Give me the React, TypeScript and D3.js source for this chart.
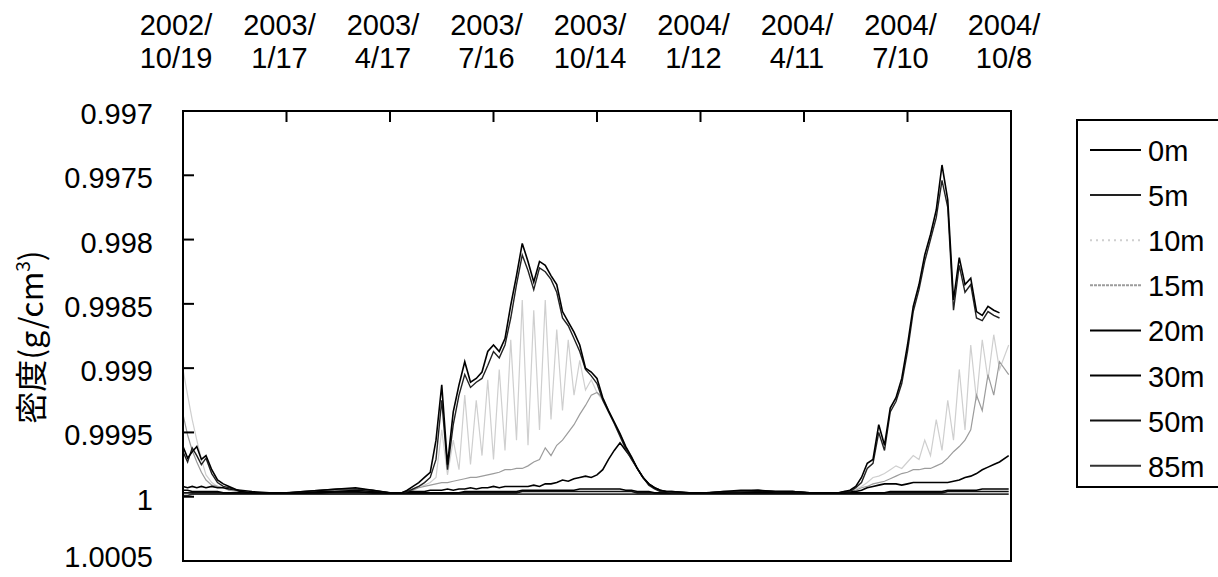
import React, { useEffect, useRef } from 'react';
import * as d3 from 'd3';

// days after 2002/10/19
const dayOffsets = [
  0, 4, 8, 12, 16, 20, 25, 30, 35, 40, 50, 60,
  75, 90, 105, 120, 135, 150, 165, 180, 190,
  195, 200, 205, 210, 215, 220, 225, 230, 235, 240, 245, 250, 255, 260, 265, 270, 275, 280, 285, 290,
  295, 300, 305, 310, 315, 320, 325, 330, 335, 340, 345, 350, 355, 360, 365, 370, 375, 380, 385, 390,
  395, 400, 405, 410, 415, 420, 425,
  440, 455, 470, 485, 500, 515, 530, 545, 560,
  565, 570, 575, 580, 585, 590, 595, 600, 605, 610, 615, 620, 625, 630, 635, 640, 645, 650, 655, 660,
  665, 670, 675, 680, 685, 690, 695, 700, 705, 710, 718,
];

const tickDates = ['2002/10/19', '2003/1/17', '2003/4/17', '2003/7/16', '2003/10/14', '2004/1/12', '2004/4/11', '2004/7/10', '2004/10/8'];
const yTickValues = [0.997, 0.9975, 0.998, 0.9985, 0.999, 0.9995, 1, 1.0005];
const yTickLabels = ['0.997', '0.9975', '0.998', '0.9985', '0.999', '0.9995', '1', '1.0005'];
const depths = ['0m', '5m', '10m', '15m', '20m', '30m', '50m', '85m'];

const d0m = [
  0.99961, 0.99970, 0.99965, 0.99961, 0.99971, 0.99968, 0.99979, 0.99987, 0.99990, 0.99992, 0.99996, 0.99997,
  0.99997, 0.99997, 0.99996, 0.99995, 0.99994, 0.99993, 0.99995, 0.99997, 0.99997,
  0.99995, 0.99992, 0.99989, 0.99985, 0.99981, 0.99956, 0.99913, 0.99975, 0.99934, 0.99913,
  0.99895, 0.99911, 0.99908, 0.99903, 0.99887, 0.99882, 0.99887, 0.99877, 0.99851, 0.99828,
  0.99803, 0.99817, 0.99833, 0.99817, 0.99820, 0.99828, 0.99835, 0.99856, 0.99864, 0.99872,
  0.99882, 0.99900, 0.99903, 0.99908, 0.99923, 0.99933, 0.99942, 0.99951, 0.99961, 0.99969,
  0.99978, 0.99985, 0.99990, 0.99993, 0.99995, 0.99996, 0.99996,
  0.99997, 0.99997, 0.99996, 0.99995, 0.99995, 0.99996, 0.99996, 0.99997, 0.99997,
  0.99997, 0.99997, 0.99996, 0.99995, 0.99992, 0.99985, 0.99974, 0.99971, 0.99944, 0.99960,
  0.99931, 0.99923, 0.99908, 0.99882, 0.99852, 0.99835, 0.99812, 0.99796, 0.99777, 0.99742,
  0.99769, 0.99847, 0.99814, 0.99835, 0.99830, 0.99856, 0.99859, 0.99852, 0.99855, 0.99857, null,
];

const d5m = [
  0.99965, 0.99973, 0.99962, 0.99968, 0.99975, 0.99970, 0.99982, 0.99989, 0.99992, 0.99993, 0.99996, 0.99997,
  0.99997, 0.99997, 0.99996, 0.99995, 0.99994, 0.99994, 0.99995, 0.99997, 0.99997,
  0.99996, 0.99994, 0.99992, 0.99989, 0.99985, 0.99971, 0.99925, 0.99979, 0.99944, 0.99921,
  0.99905, 0.99915, 0.99911, 0.99908, 0.99898, 0.99887, 0.99892, 0.99882, 0.99861, 0.99835,
  0.99812, 0.99824, 0.99839, 0.99822, 0.99825, 0.99831, 0.99841, 0.99861, 0.99867, 0.99877,
  0.99887, 0.99901, 0.99906, 0.99912, 0.99925, 0.99934, 0.99943, 0.99953, 0.99963, 0.99971,
  0.99978, 0.99985, 0.99991, 0.99994, 0.99996, 0.99996, 0.99997,
  0.99997, 0.99997, 0.99996, 0.99996, 0.99995, 0.99996, 0.99996, 0.99997, 0.99997,
  0.99997, 0.99997, 0.99996, 0.99996, 0.99993, 0.99989, 0.99978, 0.99974, 0.99950, 0.99964,
  0.99934, 0.99926, 0.99912, 0.99887, 0.99856, 0.99839, 0.99817, 0.99800, 0.99783, 0.99754,
  0.99775, 0.99855, 0.99820, 0.99841, 0.99835, 0.99861, 0.99863, 0.99856, 0.99859, 0.99861, null,
];

const d10m = [
  0.99901, 0.99921, 0.99940, 0.99956, 0.99971, 0.99983, 0.99989, 0.99992, 0.99993, 0.99995, 0.99996, 0.99997,
  0.99997, 0.99997, 0.99996, 0.99996, 0.99995, 0.99994, 0.99995, 0.99997, 0.99997,
  0.99996, 0.99994, 0.99992, 0.99991, 0.99989, 0.99985, 0.99948, 0.99983, 0.99956, 0.99979,
  0.99921, 0.99975, 0.99925, 0.99968, 0.99909, 0.99971, 0.99901, 0.99964, 0.99878, 0.99956,
  0.99847, 0.99960, 0.99855, 0.99948, 0.99847, 0.99940, 0.99870, 0.99933, 0.99878, 0.99921,
  0.99894, 0.99917, 0.99909, 0.99919, 0.99925, 0.99933, 0.99943, 0.99953, 0.99962, 0.99970,
  0.99978, 0.99985, 0.99990, 0.99993, 0.99995, 0.99996, 0.99996,
  0.99997, 0.99997, 0.99996, 0.99996, 0.99995, 0.99996, 0.99996, 0.99997, 0.99997,
  0.99997, 0.99997, 0.99997, 0.99996, 0.99994, 0.99992, 0.99989, 0.99985, 0.99984, 0.99982,
  0.99979, 0.99976, 0.99978, 0.99973, 0.99968, 0.99971, 0.99956, 0.99968, 0.99940, 0.99964,
  0.99925, 0.99956, 0.99901, 0.99948, 0.99882, 0.99925, 0.99878, 0.99909, 0.99874, 0.99901, 0.99882,
];

const d15m = [
  0.99936, 0.99952, 0.99964, 0.99973, 0.99981, 0.99987, 0.99991, 0.99992, 0.99993, 0.99995, 0.99996, 0.99997,
  0.99997, 0.99997, 0.99997, 0.99996, 0.99995, 0.99995, 0.99996, 0.99997, 0.99997,
  0.99996, 0.99995, 0.99993, 0.99992, 0.99991, 0.99990, 0.99989, 0.99989, 0.99988, 0.99987,
  0.99986, 0.99985, 0.99985, 0.99984, 0.99983, 0.99982, 0.99981, 0.99979, 0.99979, 0.99978,
  0.99978, 0.99976, 0.99973, 0.99971, 0.99962, 0.99968, 0.99960, 0.99956, 0.99950, 0.99944,
  0.99936, 0.99929, 0.99921, 0.99919, 0.99923, 0.99933, 0.99942, 0.99951, 0.99961, 0.99969,
  0.99978, 0.99985, 0.99990, 0.99993, 0.99995, 0.99996, 0.99996,
  0.99997, 0.99997, 0.99996, 0.99996, 0.99995, 0.99996, 0.99996, 0.99997, 0.99997,
  0.99997, 0.99997, 0.99997, 0.99996, 0.99995, 0.99993, 0.99992, 0.99990, 0.99989, 0.99988,
  0.99986, 0.99984, 0.99982, 0.99981, 0.99979, 0.99979, 0.99978, 0.99978, 0.99976, 0.99974,
  0.99970, 0.99965, 0.99961, 0.99956, 0.99948, 0.99921, 0.99933, 0.99905, 0.99921, 0.99895, 0.99905,
];

const d20m = [
  0.99992, 0.99993, 0.99992, 0.99993, 0.99992, 0.99993, 0.99992, 0.99993, 0.99993, 0.99994, 0.99995, 0.99996,
  0.99997, 0.99997, 0.99997, 0.99996, 0.99996, 0.99995, 0.99996, 0.99997, 0.99997,
  0.99996, 0.99996, 0.99996, 0.99996, 0.99995, 0.99995, 0.99995, 0.99994, 0.99995, 0.99994,
  0.99994, 0.99993, 0.99994, 0.99993, 0.99993, 0.99992, 0.99993, 0.99992, 0.99992, 0.99992,
  0.99992, 0.99992, 0.99991, 0.99992, 0.99990, 0.99990, 0.99989, 0.99987, 0.99988, 0.99986,
  0.99985, 0.99984, 0.99985, 0.99983, 0.99979, 0.99971, 0.99964, 0.99958, 0.99964, 0.99970,
  0.99978, 0.99985, 0.99990, 0.99993, 0.99995, 0.99996, 0.99996,
  0.99997, 0.99997, 0.99997, 0.99996, 0.99996, 0.99996, 0.99996, 0.99997, 0.99997,
  0.99997, 0.99997, 0.99997, 0.99996, 0.99996, 0.99995, 0.99993, 0.99992, 0.99991, 0.99990,
  0.99990, 0.99990, 0.99991, 0.99990, 0.99989, 0.99989, 0.99989, 0.99989, 0.99989, 0.99989,
  0.99989, 0.99988, 0.99987, 0.99985, 0.99984, 0.99982, 0.99979, 0.99977, 0.99975, 0.99973, 0.99968,
];

const d30m = [
  0.99995, 0.99995, 0.99996, 0.99996, 0.99996, 0.99996, 0.99996, 0.99996, 0.99997, 0.99997, 0.99997, 0.99997,
  0.99997, 0.99997, 0.99997, 0.99997, 0.99996, 0.99996, 0.99997, 0.99997, 0.99997,
  0.99997, 0.99997, 0.99997, 0.99997, 0.99997, 0.99997, 0.99997, 0.99997, 0.99997, 0.99997,
  0.99996, 0.99996, 0.99996, 0.99996, 0.99996, 0.99996, 0.99996, 0.99996, 0.99996, 0.99996,
  0.99995, 0.99995, 0.99995, 0.99995, 0.99995, 0.99995, 0.99995, 0.99995, 0.99995, 0.99995,
  0.99994, 0.99994, 0.99994, 0.99994, 0.99994, 0.99994, 0.99994, 0.99994, 0.99995, 0.99995,
  0.99996, 0.99996, 0.99996, 0.99997, 0.99997, 0.99997, 0.99997,
  0.99997, 0.99997, 0.99997, 0.99997, 0.99997, 0.99997, 0.99997, 0.99997, 0.99997,
  0.99997, 0.99997, 0.99997, 0.99997, 0.99997, 0.99997, 0.99997, 0.99997, 0.99997, 0.99997,
  0.99996, 0.99996, 0.99996, 0.99996, 0.99996, 0.99996, 0.99996, 0.99996, 0.99996, 0.99996,
  0.99995, 0.99995, 0.99995, 0.99995, 0.99995, 0.99995, 0.99994, 0.99994, 0.99994, 0.99994, 0.99994,
];

const d50m = [
  0.99997, 0.99997, 0.99997, 0.99997, 0.99997, 0.99997, 0.99997, 0.99997, 0.99997, 0.99997, 0.99997, 0.99997,
  0.99997, 0.99997, 0.99997, 0.99997, 0.99997, 0.99997, 0.99997, 0.99997, 0.99997,
  0.99997, 0.99997, 0.99997, 0.99997, 0.99997, 0.99997, 0.99997, 0.99997, 0.99997, 0.99997,
  0.99997, 0.99997, 0.99997, 0.99997, 0.99997, 0.99997, 0.99997, 0.99997, 0.99997, 0.99997,
  0.99996, 0.99996, 0.99996, 0.99996, 0.99996, 0.99996, 0.99996, 0.99996, 0.99996, 0.99996,
  0.99996, 0.99996, 0.99996, 0.99996, 0.99996, 0.99996, 0.99996, 0.99996, 0.99996, 0.99996,
  0.99997, 0.99997, 0.99997, 0.99997, 0.99997, 0.99997, 0.99997,
  0.99997, 0.99997, 0.99997, 0.99997, 0.99997, 0.99997, 0.99997, 0.99997, 0.99997,
  0.99997, 0.99997, 0.99997, 0.99997, 0.99997, 0.99997, 0.99997, 0.99997, 0.99997, 0.99997,
  0.99997, 0.99997, 0.99997, 0.99997, 0.99997, 0.99997, 0.99997, 0.99997, 0.99997, 0.99997,
  0.99996, 0.99996, 0.99996, 0.99996, 0.99996, 0.99996, 0.99996, 0.99996, 0.99996, 0.99996, 0.99996,
];

const d85m = [
  0.99999, 0.99999, 0.99998, 0.99998, 0.99998, 0.99998, 0.99998, 0.99998, 0.99998, 0.99998, 0.99998, 0.99998,
  0.99998, 0.99998, 0.99998, 0.99998, 0.99998, 0.99998, 0.99998, 0.99998, 0.99998,
  0.99998, 0.99998, 0.99998, 0.99998, 0.99998, 0.99998, 0.99998, 0.99998, 0.99998, 0.99998,
  0.99998, 0.99998, 0.99998, 0.99998, 0.99998, 0.99998, 0.99998, 0.99998, 0.99998, 0.99998,
  0.99998, 0.99998, 0.99998, 0.99998, 0.99998, 0.99998, 0.99998, 0.99998, 0.99998, 0.99998,
  0.99998, 0.99998, 0.99998, 0.99998, 0.99998, 0.99998, 0.99998, 0.99998, 0.99998, 0.99998,
  0.99998, 0.99998, 0.99998, 0.99998, 0.99998, 0.99998, 0.99998,
  0.99998, 0.99998, 0.99998, 0.99998, 0.99998, 0.99998, 0.99998, 0.99998, 0.99998,
  0.99998, 0.99998, 0.99998, 0.99998, 0.99998, 0.99998, 0.99998, 0.99998, 0.99998, 0.99998,
  0.99998, 0.99998, 0.99998, 0.99998, 0.99998, 0.99998, 0.99998, 0.99998, 0.99998, 0.99998,
  0.99998, 0.99998, 0.99998, 0.99998, 0.99998, 0.99998, 0.99998, 0.99998, 0.99998, 0.99998, 0.99998,
];

const seriesValues = [d0m, d5m, d10m, d15m, d20m, d30m, d50m, d85m];
const lineColors = ['#000', '#222', '#cfcfcf', '#9c9c9c', '#000', '#000', '#111', '#333'];
const lineWidths = [1.6, 1.4, 1.2, 1.2, 1.6, 1.6, 1.6, 1.6];
const legendDash = [null, null, '2 4', '3 1', null, null, null, null];
const drawOrder = [2, 3, 7, 6, 5, 4, 1, 0];

const W = 1218;
const H = 577;
const FONT = "'Liberation Sans', Arial, sans-serif";

const App = () => {
  const ref = useRef<SVGSVGElement>(null);

  useEffect(() => {
    const svg = d3.select(ref.current);
    svg.selectAll('*').remove();

    const start = Date.UTC(2002, 9, 19);
    const toDate = (d: number) => new Date(start + d * 86400000);
    const parseTick = (s: string) => {
      const [y, m, d] = s.split('/').map(Number);
      return new Date(Date.UTC(y, m - 1, d));
    };

    const x = d3.scaleUtc()
      .domain([toDate(0), parseTick(tickDates[tickDates.length - 1])])
      .range([183, 1011]);
    const y = d3.scaleLinear().domain([0.997, 1.0005]).range([111, 561]);

    // lines
    const line = d3.line<[number, number | null]>()
      .defined(d => d[1] != null)
      .x(d => x(toDate(d[0])))
      .y(d => y(d[1] as number));

    const lines = svg.append('g');
    drawOrder.forEach(i => {
      const pts = dayOffsets.map((d, k) => [d, seriesValues[i][k] ?? null] as [number, number | null]);
      lines.append('path')
        .attr('d', line(pts))
        .attr('fill', 'none')
        .attr('stroke', lineColors[i])
        .attr('stroke-width', lineWidths[i])
        .attr('stroke-linejoin', 'miter');
    });

    // frame
    svg.append('rect')
      .attr('x', 183).attr('y', 111).attr('width', 828).attr('height', 450)
      .attr('fill', 'none').attr('stroke', '#000').attr('stroke-width', 2);

    // x ticks (top, pointing inwards)
    const xt = svg.append('g');
    tickDates.forEach(t => {
      const px = x(parseTick(t));
      xt.append('line')
        .attr('x1', px).attr('x2', px).attr('y1', 111).attr('y2', 122)
        .attr('stroke', '#000').attr('stroke-width', 2);
      const cut = t.indexOf('/') + 1;
      const txt = xt.append('text')
        .attr('text-anchor', 'middle')
        .attr('font-family', FONT)
        .attr('font-size', 29)
        .attr('fill', '#000');
      txt.append('tspan').attr('x', px - 7).attr('y', 35).text(t.slice(0, cut));
      txt.append('tspan').attr('x', px - 7).attr('y', 68).text(t.slice(cut));
    });

    // y ticks
    const yt = svg.append('g');
    yTickValues.forEach((v, i) => {
      const py = y(v);
      yt.append('line')
        .attr('x1', 183).attr('x2', 194).attr('y1', py).attr('y2', py)
        .attr('stroke', '#000').attr('stroke-width', 2);
      yt.append('text')
        .attr('x', 153).attr('y', Math.min(py + 3, 557))
        .attr('text-anchor', 'end')
        .attr('dominant-baseline', 'central')
        .attr('font-family', FONT)
        .attr('font-size', 29)
        .attr('fill', '#000')
        .text(yTickLabels[i]);
    });

    // y title
    const title = svg.append('text')
      .attr('transform', 'translate(43, 337) rotate(-90)')
      .attr('text-anchor', 'middle')
      .attr('font-family', "'Noto Sans CJK JP', sans-serif")
      .attr('font-size', 32)
      .attr('fill', '#000');
    title.append('tspan').text('密度(g/cm');
    title.append('tspan').attr('dy', -13).attr('font-size', 19).text('3');
    title.append('tspan').attr('dy', 13).text(')');

    // legend
    const lg = svg.append('g');
    lg.append('rect')
      .attr('x', 1077).attr('y', 120).attr('width', 170).attr('height', 367)
      .attr('fill', '#fff').attr('stroke', '#000').attr('stroke-width', 2);
    depths.forEach((name, i) => {
      const ly = 150 + i * 45.1;
      lg.append('line')
        .attr('x1', 1090).attr('x2', 1141).attr('y1', ly).attr('y2', ly)
        .attr('stroke', lineColors[i])
        .attr('stroke-width', 2)
        .attr('stroke-dasharray', legendDash[i]);
      lg.append('text')
        .attr('x', 1148).attr('y', ly + 1)
        .attr('dominant-baseline', 'central')
        .attr('font-family', FONT)
        .attr('font-size', 29)
        .attr('fill', '#000')
        .text(name);
    });
  }, []);

  return (
    <svg
      ref={ref}
      width={W}
      height={H}
      style={{ position: 'absolute', left: 0, top: 0, background: '#fff' }}
    />
  );
};

export default App;
